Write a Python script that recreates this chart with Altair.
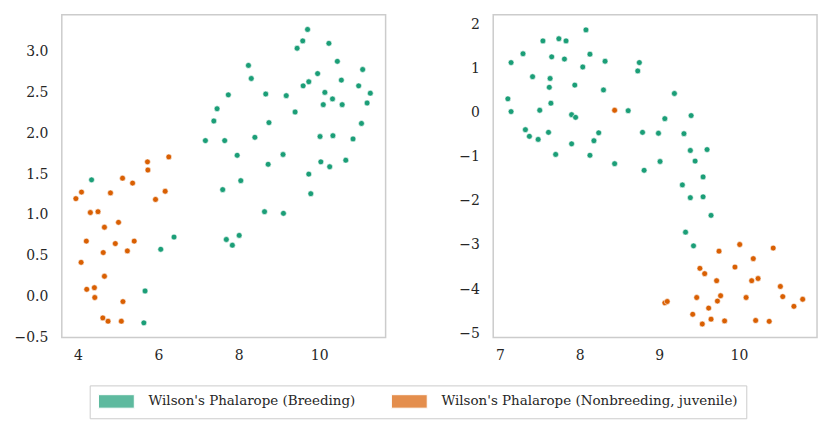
import altair as alt
import pandas as pd

BREED = "Wilson's Phalarope (Breeding)"
NONB = "Wilson's Phalarope (Nonbreeding, juvenile)"

# Left panel
left_breed_x = [4.34, 5.67, 5.64, 6.06, 6.39, 7.17, 7.38, 7.46, 7.65, 7.74, 7.60, 7.69, 7.84, 8.01,
                7.96, 8.05, 8.24, 8.31, 8.40, 8.67, 8.75, 8.73, 8.64, 9.10, 9.11, 9.18, 9.40, 9.45,
                9.59, 9.71, 9.60, 9.74, 9.74, 9.79, 9.96, 10.02, 10.04, 10.14, 10.10, 10.24, 10.26,
                10.33, 10.34, 10.45, 10.55, 10.57, 10.66, 10.84, 10.98, 11.05, 11.08, 11.19, 11.27]
left_breed_y = [1.43, 0.07, -0.32, 0.58, 0.73, 1.91, 2.15, 2.30, 1.91, 2.47, 1.31, 0.70, 0.63, 0.75,
                1.73, 1.42, 2.83, 2.67, 1.95, 2.48, 2.13, 1.62, 1.04, 1.74, 1.02, 2.46, 2.26, 3.04,
                3.13, 3.27, 2.58, 2.63, 1.50, 1.26, 2.73, 1.96, 1.65, 2.50, 2.35, 3.10, 1.59,
                2.42, 1.97, 2.88, 2.65, 2.35, 1.67, 1.93, 2.58, 2.12, 2.78, 2.37, 2.49]
left_nonb_x = [3.95, 4.09, 4.31, 4.50, 4.21, 4.08, 4.22, 4.41, 4.42, 4.66, 4.63, 4.66, 4.62, 4.75,
               4.81, 5.01, 4.93, 5.11, 5.12, 5.08, 5.23, 5.36, 5.40, 5.73, 5.74, 5.93, 6.17, 6.26]
left_nonb_y = [1.20, 1.28, 1.03, 1.04, 0.68, 0.42, 0.09, 0.11, -0.01, 0.85, 0.54, 0.25, -0.26, -0.30,
               1.27, 0.91, 0.65, 1.45, -0.06, -0.30, 0.56, 1.39, 0.68, 1.65, 1.55, 1.19, 1.29, 1.71]

# Right panel
right_breed_x = [7.10, 7.14, 7.14, 7.29, 7.32, 7.37, 7.41, 7.48, 7.50, 7.54, 7.61, 7.62, 7.63, 7.64,
                 7.65, 7.70, 7.74, 7.81, 7.83, 7.90, 7.90, 7.94, 7.95, 8.04, 8.08, 8.13, 8.13, 8.18,
                 8.24, 8.30, 8.32, 8.44, 8.61, 8.73, 8.75, 8.79, 8.81, 8.99, 9.01, 9.07, 9.19, 9.29,
                 9.31, 9.33, 9.39, 9.39, 9.40, 9.43, 9.45, 9.55, 9.55, 9.60, 9.65]
right_breed_y = [0.31, 0.02, 1.13, 1.33, -0.39, -0.54, 0.81, -0.61, 0.05, 1.62, -0.45, 0.57, 0.77, 0.21,
                 1.26, -0.95, 1.67, 1.21, 1.62, -0.05, -0.71, 0.62, -0.11, 1.03, 1.87, 1.32, -0.97, -0.64,
                 -0.46, 0.51, 1.16, -1.16, 0.04, 0.94, 1.13, -0.45, -1.31, -0.47, -1.11, -0.14, 0.43, -1.64,
                 -0.48, -2.71, -1.93, -0.86, -0.07, -3.02, -1.10, -1.46, -1.91, -0.84, -2.33]
right_nonb_x = [8.44, 9.07, 9.10, 9.42, 9.47, 9.51, 9.54, 9.57, 9.62, 9.65, 9.72, 9.73, 9.75, 9.77,
                9.82, 9.95, 10.01, 10.09, 10.16, 10.18, 10.21, 10.24, 10.38, 10.43, 10.52, 10.55,
                10.69, 10.80]
right_nonb_y = [0.05, -4.31, -4.28, -4.57, -4.19, -3.53, -4.79, -3.65, -4.43, -4.68, -3.81, -4.27, -3.14,
                -4.15, -4.72, -3.50, -2.99, -4.19, -3.81, -3.31, -4.71, -3.76, -4.73, -3.07, -3.94, -4.17,
                -4.39, -4.23]

def frame(xs, ys, label):
    return pd.DataFrame({"x": xs, "y": ys, "species": label})

left_df = pd.concat([frame(left_breed_x, left_breed_y, BREED), frame(left_nonb_x, left_nonb_y, NONB)])
right_df = pd.concat([frame(right_breed_x, right_breed_y, BREED), frame(right_nonb_x, right_nonb_y, NONB)])

GREEN = "#1b9e77"
ORANGE = "#d95f02"
FONT = "DejaVu Serif"

color = alt.Color(
    "species:N",
    scale=alt.Scale(domain=[BREED, NONB], range=[GREEN, ORANGE]),
    legend=alt.Legend(
        title=None,
        orient="none",
        legendX=28,
        legendY=372,
        direction="horizontal",
        columns=2,
        symbolType="M-1,-0.94H4V0.94H-1Z",
        symbolSize=207,
        symbolOpacity=0.7,
        symbolStrokeWidth=1,
        labelOffset=35,
        columnPadding=33,
        labelFont=FONT,
        labelFontSize=13.5,
        labelColor="#262626",
        labelLimit=400,
    ),
)

def panel(df, xdom, ydom, xticks, yticks, yfmt, yext):
    return alt.Chart(df).mark_circle(size=34, opacity=1, stroke="white", strokeWidth=0.6).encode(
        x=alt.X("x:Q", scale=alt.Scale(domain=xdom, nice=False, zero=False),
                axis=alt.Axis(values=xticks, format="d", title=None)),
        y=alt.Y("y:Q", scale=alt.Scale(domain=ydom, nice=False, zero=False),
                axis=alt.Axis(values=yticks, format=yfmt, title=None,
                              minExtent=yext, maxExtent=yext)),
        color=color,
    ).properties(width=325, height=324)

left = panel(left_df, [3.6, 11.65], [-0.5, 3.45], [4, 6, 8, 10],
             [-0.5, 0.0, 0.5, 1.0, 1.5, 2.0, 2.5, 3.0], ".1f", 48)
right = panel(right_df, [6.916, 10.98], [-5.097, 2.213], [7, 8, 9, 10],
              [-5, -4, -3, -2, -1, 0, 1, 2], "d", 40)

chart = alt.hconcat(left, right, spacing=66).configure(font=FONT).configure_view(
    stroke="#cccccc", strokeWidth=1.5
).configure_axis(
    grid=False, ticks=False, domain=False,
    labelFont=FONT, labelFontSize=14, labelColor="#262626",
).configure_axisY(labelPadding=14).configure_axisX(labelPadding=11).configure_legend(
    padding=8, strokeColor="#cccccc"
)

chart.save("out.html", embed_options={"renderer": "svg", "actions": False})
